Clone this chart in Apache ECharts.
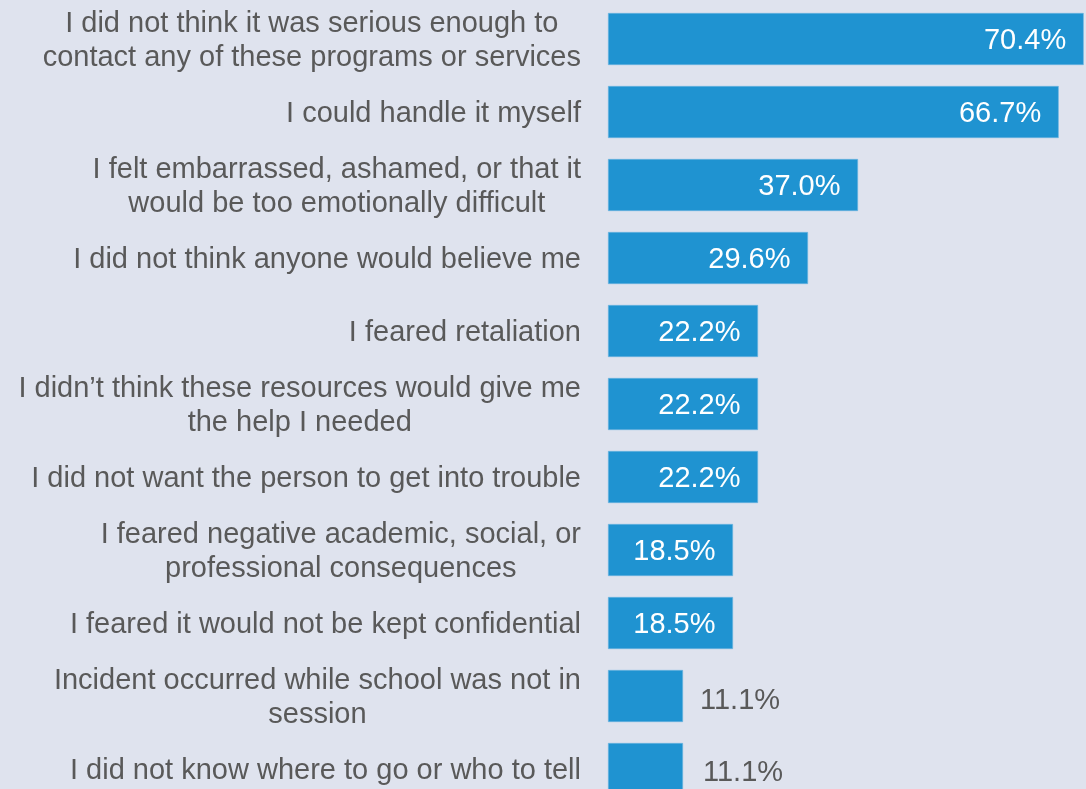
<!DOCTYPE html>
<html>
<head>
<meta charset="utf-8">
<script src="https://cdn.jsdelivr.net/npm/echarts@6/dist/echarts.min.js"></script>
<style>
html,body{margin:0;padding:0;background:#dfe3ee;}
#chart{width:1086px;height:789px;}
</style>
</head>
<body>
<div id="chart"></div>
<script>
const categories = [
  "I did not think it was serious enough to\ncontact any of these programs or services",
  "I could handle it myself",
  "I felt embarrassed, ashamed, or that it\nwould be too emotionally difficult",
  "I did not think anyone would believe me",
  "I feared retaliation",
  "I didn\u2019t think these resources would give me\nthe help I needed",
  "I did not want the person to get into trouble",
  "I feared negative academic, social, or\nprofessional consequences",
  "I feared it would not be kept confidential",
  "Incident occurred while school was not in\nsession",
  "I did not know where to go or who to tell"
];
const values = [70.4, 66.7, 37.0, 29.6, 22.2, 22.2, 22.2, 18.5, 18.5, 11.1, 11.1];

const FONT = "'Liberation Sans', Arial, sans-serif";
const TEXT = '#595959';
const FS = 29;

const seriesData = values.map(function (v, i) {
  const item = { value: v };
  if (v < 15) {
    item.label = { position: 'right', distance: 17, color: TEXT,
      offset: [i === values.length - 1 ? 3 : 0, i === values.length - 1 ? 4 : 5] };
  }
  return item;
});

const chart = echarts.init(document.getElementById('chart'), null, { renderer: 'canvas' });
chart.setOption({
  backgroundColor: '#dfe3ee',
  animation: false,
  grid: { left: 608, top: 2.5, height: 803, right: 2.3, outerBoundsMode: 'none', containLabel: false },
  xAxis: {
    type: 'value', min: 0, max: 70.4, show: false
  },
  yAxis: {
    type: 'category', inverse: true, data: categories,
    axisLine: { show: false }, axisTick: { show: false },
    axisLabel: {
      margin: 27, align: 'right', padding: [4, 0, 0, 0],
      fontFamily: FONT, fontSize: FS, color: TEXT, lineHeight: 34,
      formatter: function (s) {
        return s.split('\n').map(function (l) { return '{c|' + l + '}'; }).join('\n');
      },
      rich: { c: { align: 'center', fontFamily: FONT, fontSize: FS, color: TEXT, lineHeight: 34 } }
    }
  },
  series: [{
    type: 'bar', data: seriesData, barWidth: 52,
    itemStyle: { color: '#1f93d1', borderColor: '#6fb6e0', borderWidth: 0.6 },
    label: {
      show: true, position: 'insideRight', distance: 17.5, offset: [0, 2],
      fontFamily: FONT, fontSize: FS, color: '#ffffff',
      formatter: function (p) { return p.value.toFixed(1) + '%'; }
    }
  }]
});
</script>
</body>
</html>
